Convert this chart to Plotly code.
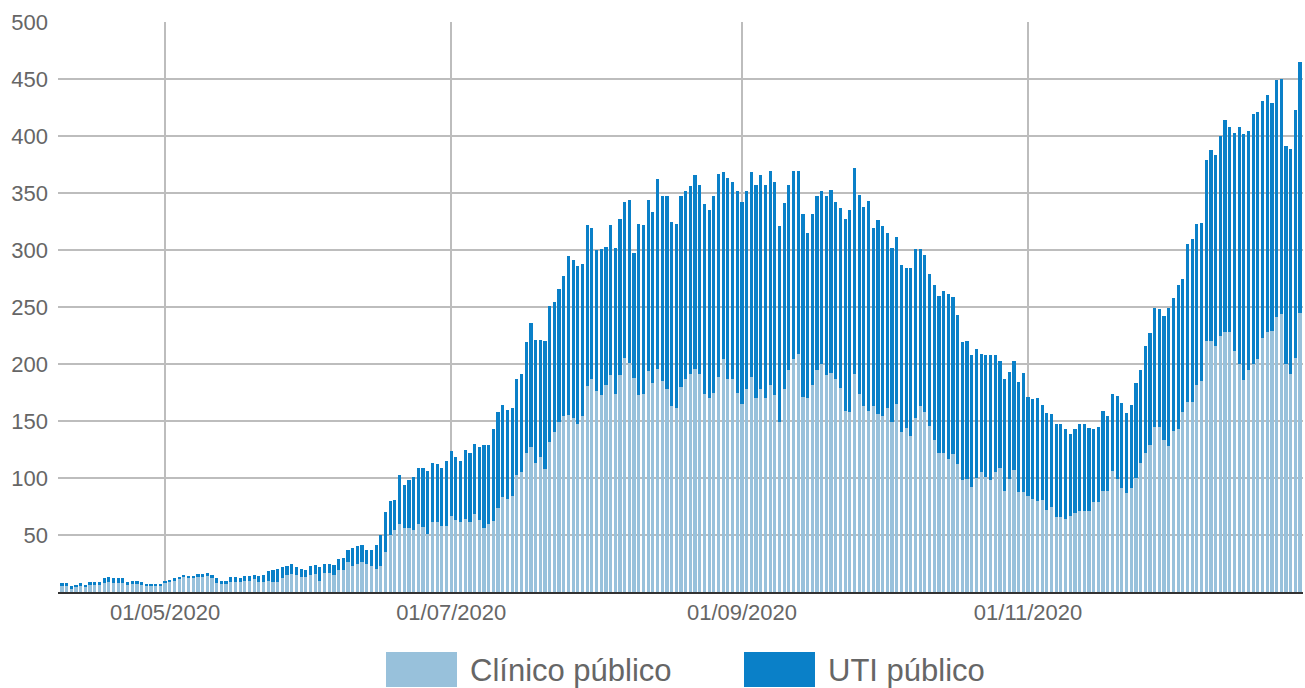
import plotly.graph_objects as go
import pandas as pd

# ---------------- data ----------------
start_date = "2020-04-09"

clinico = [
    5, 5, 3, 4, 5, 4, 6, 6, 6, 8, 9, 8, 8, 8, 6, 7, 7, 6, 6, 6, 6, 6, 8, 9, 10, 11, 13, 12, 12, 13, 13, 14, 12, 8, 7, 7, 9, 9, 9, 10, 10, 11,
    9, 9, 10, 9, 9, 12, 15, 16, 15, 13, 13, 15, 16, 10, 17, 17, 15, 19, 19, 26, 23, 25, 26, 25, 23, 20, 23, 35, 50, 54, 60, 56, 56, 54, 60,
    57, 51, 61, 61, 58, 58, 67, 63, 61, 64, 61, 68, 63, 56, 60, 62, 74, 83, 82, 84, 103, 105, 122, 127, 113, 118, 108, 132, 140,
    149,
    154, 155, 153, 147, 154, 181, 187, 176, 173, 182, 190, 174, 190, 205, 201, 188, 173, 174, 194, 183, 196, 185, 178, 163, 161, 180, 187, 191, 196, 191, 174, 170, 175, 189,
    204, 187, 187, 175, 165, 178, 189, 170, 178, 170, 182, 173, 149, 178, 195, 204, 209, 171, 170, 182, 195, 200, 190, 192, 187, 179, 159, 158, 191, 174, 163, 159, 163,
    156, 154, 161, 149, 165, 140, 144, 137, 153, 163, 158, 146, 133, 122, 122, 117, 121, 112, 98, 99, 92, 100, 105, 101, 98, 105, 109, 89, 99, 107, 88, 88,
    84, 82, 80, 81, 72, 75, 66, 66, 64, 67, 69, 71, 71, 71, 79, 79, 89, 89, 106, 99, 91, 87, 91, 100, 113, 122, 129, 145,
    145, 133, 128, 141, 143, 158, 167, 167, 182, 185, 220, 220, 216, 225, 228, 228, 211, 200, 186, 195, 200, 204, 223, 228, 229, 241, 244, 200, 191, 205, 245,
]

uti = [
    3, 3, 2, 2, 3, 2, 3, 3, 3, 4, 4, 4, 4, 4, 3, 3, 3, 3, 1, 1, 1, 1, 1, 1, 2, 2, 2, 2, 2, 3, 3, 3, 3, 4, 3, 3, 4, 4, 3, 4, 4, 4,
    5, 6, 8, 10, 11, 10, 8, 9, 7, 7, 6, 8, 8, 12, 8, 8, 9, 10, 11, 11, 16, 15, 15, 12, 14, 21, 27, 35, 30, 27, 43, 38, 42, 47, 49,
    52, 55, 52, 51, 51, 57, 57, 55, 54, 61, 61, 62, 64, 73, 69, 81, 84, 81, 78, 77, 84, 86, 97, 109, 108, 103, 112, 119, 114,
    117,
    123, 140, 138, 139, 134, 141, 132, 124, 128, 121, 132, 128, 137, 137, 143, 109, 150, 148, 150, 150, 166, 162, 169, 162, 162, 167, 165, 165, 170, 166, 166, 165, 172, 178,
    164, 176, 173, 177, 177, 174, 179, 187, 188, 187, 187, 187, 172, 163, 162, 165, 160, 161, 145, 150, 152, 152, 157, 161, 155, 158, 168, 177, 181, 174, 175, 184, 156,
    170, 167, 154, 153, 146, 147, 140, 147, 148, 138, 138, 133, 136, 138, 142, 144, 138, 131, 121, 121, 116, 113, 104, 107, 110, 103, 94, 98, 94, 96, 96, 104,
    87, 87, 90, 83, 85, 81, 81, 81, 79, 72, 74, 76, 76, 73, 64, 66, 70, 65, 68, 73, 75, 70, 73, 83, 82, 94, 98, 104,
    103, 109, 121, 117, 126, 117, 138, 143, 141, 139, 159, 168, 167, 175, 186, 180, 192, 208, 216, 209, 219, 217, 208, 208, 200, 208, 206, 191, 198, 218, 220,
]

series_names = ["Clínico público", "UTI público"]
x_tick_dates = ["2020-05-01", "2020-07-01", "2020-09-01", "2020-11-01"]
x_tick_labels = ["01/05/2020", "01/07/2020", "01/09/2020", "01/11/2020"]
y_tick_vals = [50, 100, 150, 200, 250, 300, 350, 400, 450, 500]

dates = pd.date_range(start_date, periods=len(clinico), freq="D")

# ---------------- style ----------------
C_LIGHT = "#98c1db"
C_DARK = "#0a80c8"
GRID = "#bdbdbd"
TXT = "#666666"
FONT = "Liberation Sans, Arial, sans-serif"

W, H = 1305, 688
ML, MR, MT, MB = 58, 2, 22, 96

fig = go.Figure()
fig.add_trace(go.Bar(x=dates, y=clinico, name=series_names[0],
                     marker=dict(color=C_LIGHT, line=dict(width=0))))
fig.add_trace(go.Bar(x=dates, y=uti, name=series_names[1],
                     marker=dict(color=C_DARK, line=dict(width=0))))

# custom legend (large swatches) in pixel-derived paper coordinates
pw = W - ML - MR
ph = H - MT - MB


def px_x(px):
    return (px - ML) / pw


def px_y(py):
    return (H - MB - py) / ph


legend_items = [
    (386, 457, 468, series_names[0], C_LIGHT),
    (744, 815, 826, series_names[1], C_DARK),
]
shapes = []
annotations = []
for x0, x1, tx, label, col in legend_items:
    shapes.append(dict(type="rect", xref="paper", yref="paper",
                       x0=px_x(x0), x1=px_x(x1), y0=px_y(687), y1=px_y(652),
                       fillcolor=col, line=dict(width=0), layer="above"))
    annotations.append(dict(xref="paper", yref="paper", x=px_x(tx), y=px_y(670),
                            xanchor="left", yanchor="middle", text=label,
                            showarrow=False, font=dict(family=FONT, size=31, color=TXT)))

fig.update_layout(
    width=W, height=H,
    margin=dict(l=ML, r=MR, t=MT, b=MB),
    barmode="stack",
    bargap=0.32,
    showlegend=False,
    plot_bgcolor="white",
    paper_bgcolor="white",
    font=dict(family=FONT, size=22, color=TXT),
    shapes=shapes,
    annotations=annotations,
    hovermode="x",
)

fig.update_xaxes(
    type="date",
    range=["2020-04-08 04:00", "2020-12-29 15:00"],
    tickvals=x_tick_dates,
    ticktext=x_tick_labels,
    showgrid=True, gridcolor=GRID, gridwidth=2,
    showline=True, linecolor="#333333", linewidth=1.5,
    ticks="", tickfont=dict(family=FONT, size=22, color=TXT),
    zeroline=False,
)
fig.update_yaxes(
    range=[0, 500],
    tickvals=y_tick_vals,
    showgrid=True, gridcolor=GRID, gridwidth=2,
    zeroline=False, showline=False,
    ticks="", ticklabelstandoff=9,
    tickfont=dict(family=FONT, size=22, color=TXT),
)

fig.write_html("out.html", config={"displayModeBar": False},
               post_script="document.body.style.margin='0';document.body.style.padding='0';")
